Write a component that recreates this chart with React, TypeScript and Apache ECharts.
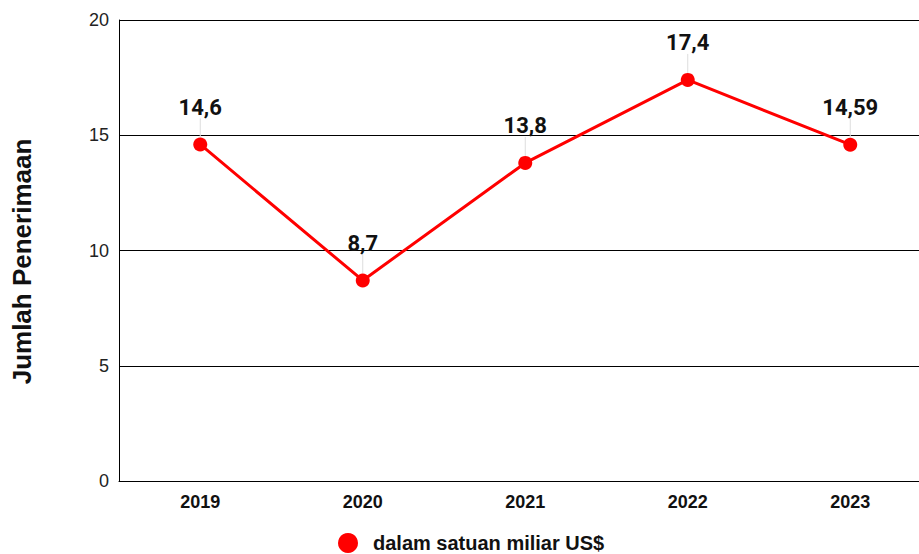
import React, { useEffect, useRef } from "react";
import * as echarts from "echarts";

const years = ["2019", "2020", "2021", "2022", "2023"];
const values = [14.6, 8.7, 13.8, 17.4, 14.59];
const seriesName = "dalam satuan miliar US$";
const yAxisTitle = "Jumlah Penerimaan";

export default function App() {
  const ref = useRef<HTMLDivElement>(null);
  useEffect(() => {
    if (!ref.current) return;
    const chart = echarts.init(ref.current, undefined, { renderer: "svg" });
    chart.setOption({
      animation: false,
      grid: { left: 119, top: 20, right: -12.5, bottom: 73, containLabel: false, outerBoundsMode: "none" },
      legend: {
        left: 338,
        top: 533,
        padding: 0,
        itemWidth: 40,
        itemHeight: 20,
        symbolKeepAspect: true,
        icon: "circle",
        textStyle: { fontFamily: "Liberation Sans", fontWeight: "bold", fontSize: 20, lineHeight: 19, color: "#111" },
        data: [{ name: seriesName, icon: "circle" }],
      },
      xAxis: {
        type: "category",
        data: years,
        boundaryGap: true,
        axisLine: { lineStyle: { color: "#000", width: 1 } },
        axisTick: { show: false },
        axisLabel: { fontFamily: "Liberation Sans", fontWeight: "bold", fontSize: 18, color: "#111", margin: 12 },
      },
      yAxis: {
        type: "value",
        min: 0,
        max: 20,
        interval: 5,
        name: yAxisTitle,
        nameLocation: "middle",
        nameGap: 84,
        nameTextStyle: {
          fontFamily: "Liberation Sans",
          fontWeight: "bold",
          fontSize: 26,
          color: "#111",
          padding: [0, 22, 0, 0],
        },
        axisLine: { show: true, lineStyle: { color: "#000", width: 1 } },
        axisTick: { show: false },
        axisLabel: { fontFamily: "Liberation Sans", fontSize: 18, color: "#222", margin: 10 },
        splitLine: { lineStyle: { color: "#000", width: 1 } },
      },
      series: [
        {
          name: seriesName,
          type: "line",
          data: values,
          color: "#ff0000",
          symbol: "circle",
          symbolSize: 14,
          lineStyle: { color: "#ff0000", width: 3 },
          itemStyle: { color: "#ff0000" },
          label: {
            show: true,
            position: "top",
            distance: 6,
            fontFamily: "Roboto",
            fontWeight: "bold",
            fontSize: 22,
            color: "#111",
            formatter: (p: any) => String(p.value).replace(".", ","),
          },
          labelLayout: { dy: -13 },
          labelLine: { show: true, lineStyle: { color: "#dddddd", width: 1 } },
        },
      ],
    });
    return () => chart.dispose();
  }, []);
  return <div ref={ref} style={{ width: 919, height: 554, position: "absolute", left: 0, top: 0 }} />;
}
